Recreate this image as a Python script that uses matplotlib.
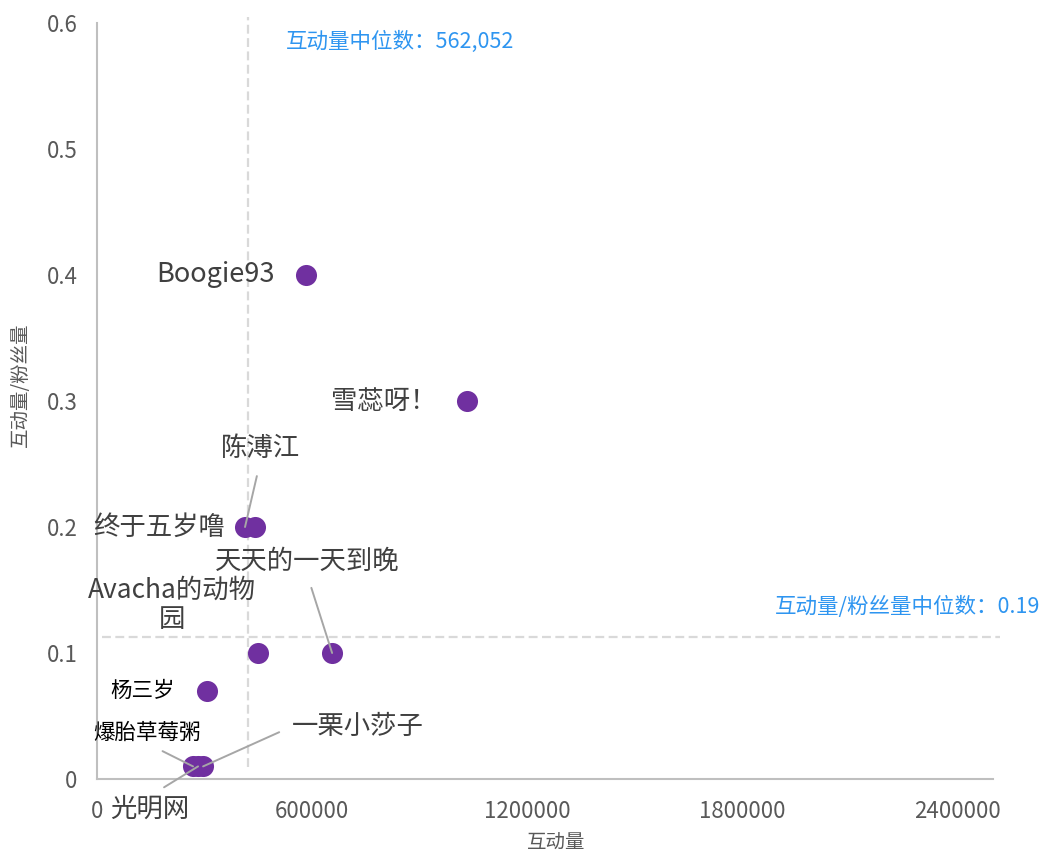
import matplotlib
matplotlib.use("Agg")
import matplotlib.pyplot as plt

plt.rcParams['font.family'] = ['Noto Sans CJK SC', 'DejaVu Sans']

# data
names = ['Boogie93', '雪蕊呀！', '陈溥江', '终于五岁噜', 'Avacha的动物\n园',
         '天天的一天到晚', '杨三岁', '爆胎草莓粥', '光明网', '一栗小莎子']
interaction = [583000, 1033000, 413000, 441000, 449000, 656000, 307000, 268000, 282000, 296000]
ratio = [0.40, 0.30, 0.20, 0.20, 0.10, 0.10, 0.07, 0.01, 0.01, 0.01]

x_ticks = [0, 600000, 1200000, 1800000, 2400000]
y_ticks = [0, 0.1, 0.2, 0.3, 0.4, 0.5, 0.6]
y_tick_labels = ['0', '0.1', '0.2', '0.3', '0.4', '0.5', '0.6']

# median reference lines (where they are drawn in the original)
x_median_pos = 421000
y_median_pos = 0.113
x_median_text = '互动量中位数：562,052'
y_median_text = '互动量/粉丝量中位数：0.19'

# label layout: offset in pixels, alignment, size, colour, leader start (relpos) or None
label_style = {
    'Boogie93': ((-31, 0), 'right', 19.5, '#404040', None),
    '雪蕊呀！': ((-31, 0), 'right', 19, '#404040', None),
    '陈溥江': ((15, 78), 'center', 19, '#404040', (0.5, 0)),
    '终于五岁噜': ((-30, 0), 'right', 19, '#404040', None),
    'Avacha的动物\n园': ((-86, 48), 'center', 19, '#404040', None),
    '天天的一天到晚': ((-25, 92), 'center', 19, '#404040', (0.5, 0)),
    '杨三岁': ((-32, 0), 'right', 15.5, '#000000', None),
    '爆胎草莓粥': ((-46, 34), 'center', 15.5, '#000000', (0.5, 0)),
    '光明网': ((-48, -43), 'center', 19, '#404040', (0.5, 1)),
    '一栗小莎子': ((89, 40), 'left', 19, '#404040', (0, 0.5)),
}

fig = plt.figure(figsize=(10.46, 8.52), dpi=100)
ax = fig.add_axes([97/1046, 1-779/852, (993-97)/1046, (779-23)/852])

ax.set_xlim(0, 2500000)
ax.set_ylim(0, 0.6)

grey = '#D9D9D9'
ax.vlines(x_median_pos, 0.0095, 0.605, colors=grey, linestyles=(0, (4, 2)), lw=1.6, clip_on=False, zorder=1)
ax.hlines(y_median_pos, 14000, 2520000, colors=grey, linestyles=(0, (4, 2)), lw=1.6, clip_on=False, zorder=1)

ax.scatter(interaction, ratio, s=230, color='#7030A0', zorder=3, linewidths=0)

for name, xv, yv in zip(names, interaction, ratio):
    (dx, dy), ha, size, col, rel = label_style[name]
    props = None
    if rel is not None:
        props = dict(arrowstyle='-', color='#A6A6A6', lw=1.4, shrinkA=8, shrinkB=0, relpos=rel)
    ax.annotate(name, xy=(xv, yv), xytext=(dx, dy), textcoords='offset pixels',
                ha=ha, va='center', multialignment='center', fontsize=size, color=col,
                arrowprops=props, zorder=4, linespacing=1.1)

ax.text((286-97)/215*600000, (779-42)/1260, x_median_text, color='#2E95F0',
        fontsize=15.5, ha='left', va='center', clip_on=False)
ax.text((1040-97)/215*600000, (779-607)/1260, y_median_text, color='#2E95F0',
        fontsize=15.5, ha='right', va='center', clip_on=False)

for side in ['top', 'right']:
    ax.spines[side].set_visible(False)
for side in ['left', 'bottom']:
    ax.spines[side].set_color('#BFBFBF')
    ax.spines[side].set_linewidth(1.5)

ax.set_xticks(x_ticks)
ax.set_xticklabels([str(t) for t in x_ticks])
ax.set_yticks(y_ticks)
ax.set_yticklabels(y_tick_labels)
ax.tick_params(axis='both', length=0, labelsize=16, labelcolor='#595959')
ax.tick_params(axis='x', pad=15)
ax.tick_params(axis='y', pad=14)

fig.text(556/1046, 1-842/852, '互动量', ha='center', va='center', fontsize=14, color='#595959')
fig.text(20/1046, 1-385/852, '互动量/粉丝量', ha='center', va='center', rotation=90,
         fontsize=14, color='#595959')

fig.savefig('out.png', dpi=100)
